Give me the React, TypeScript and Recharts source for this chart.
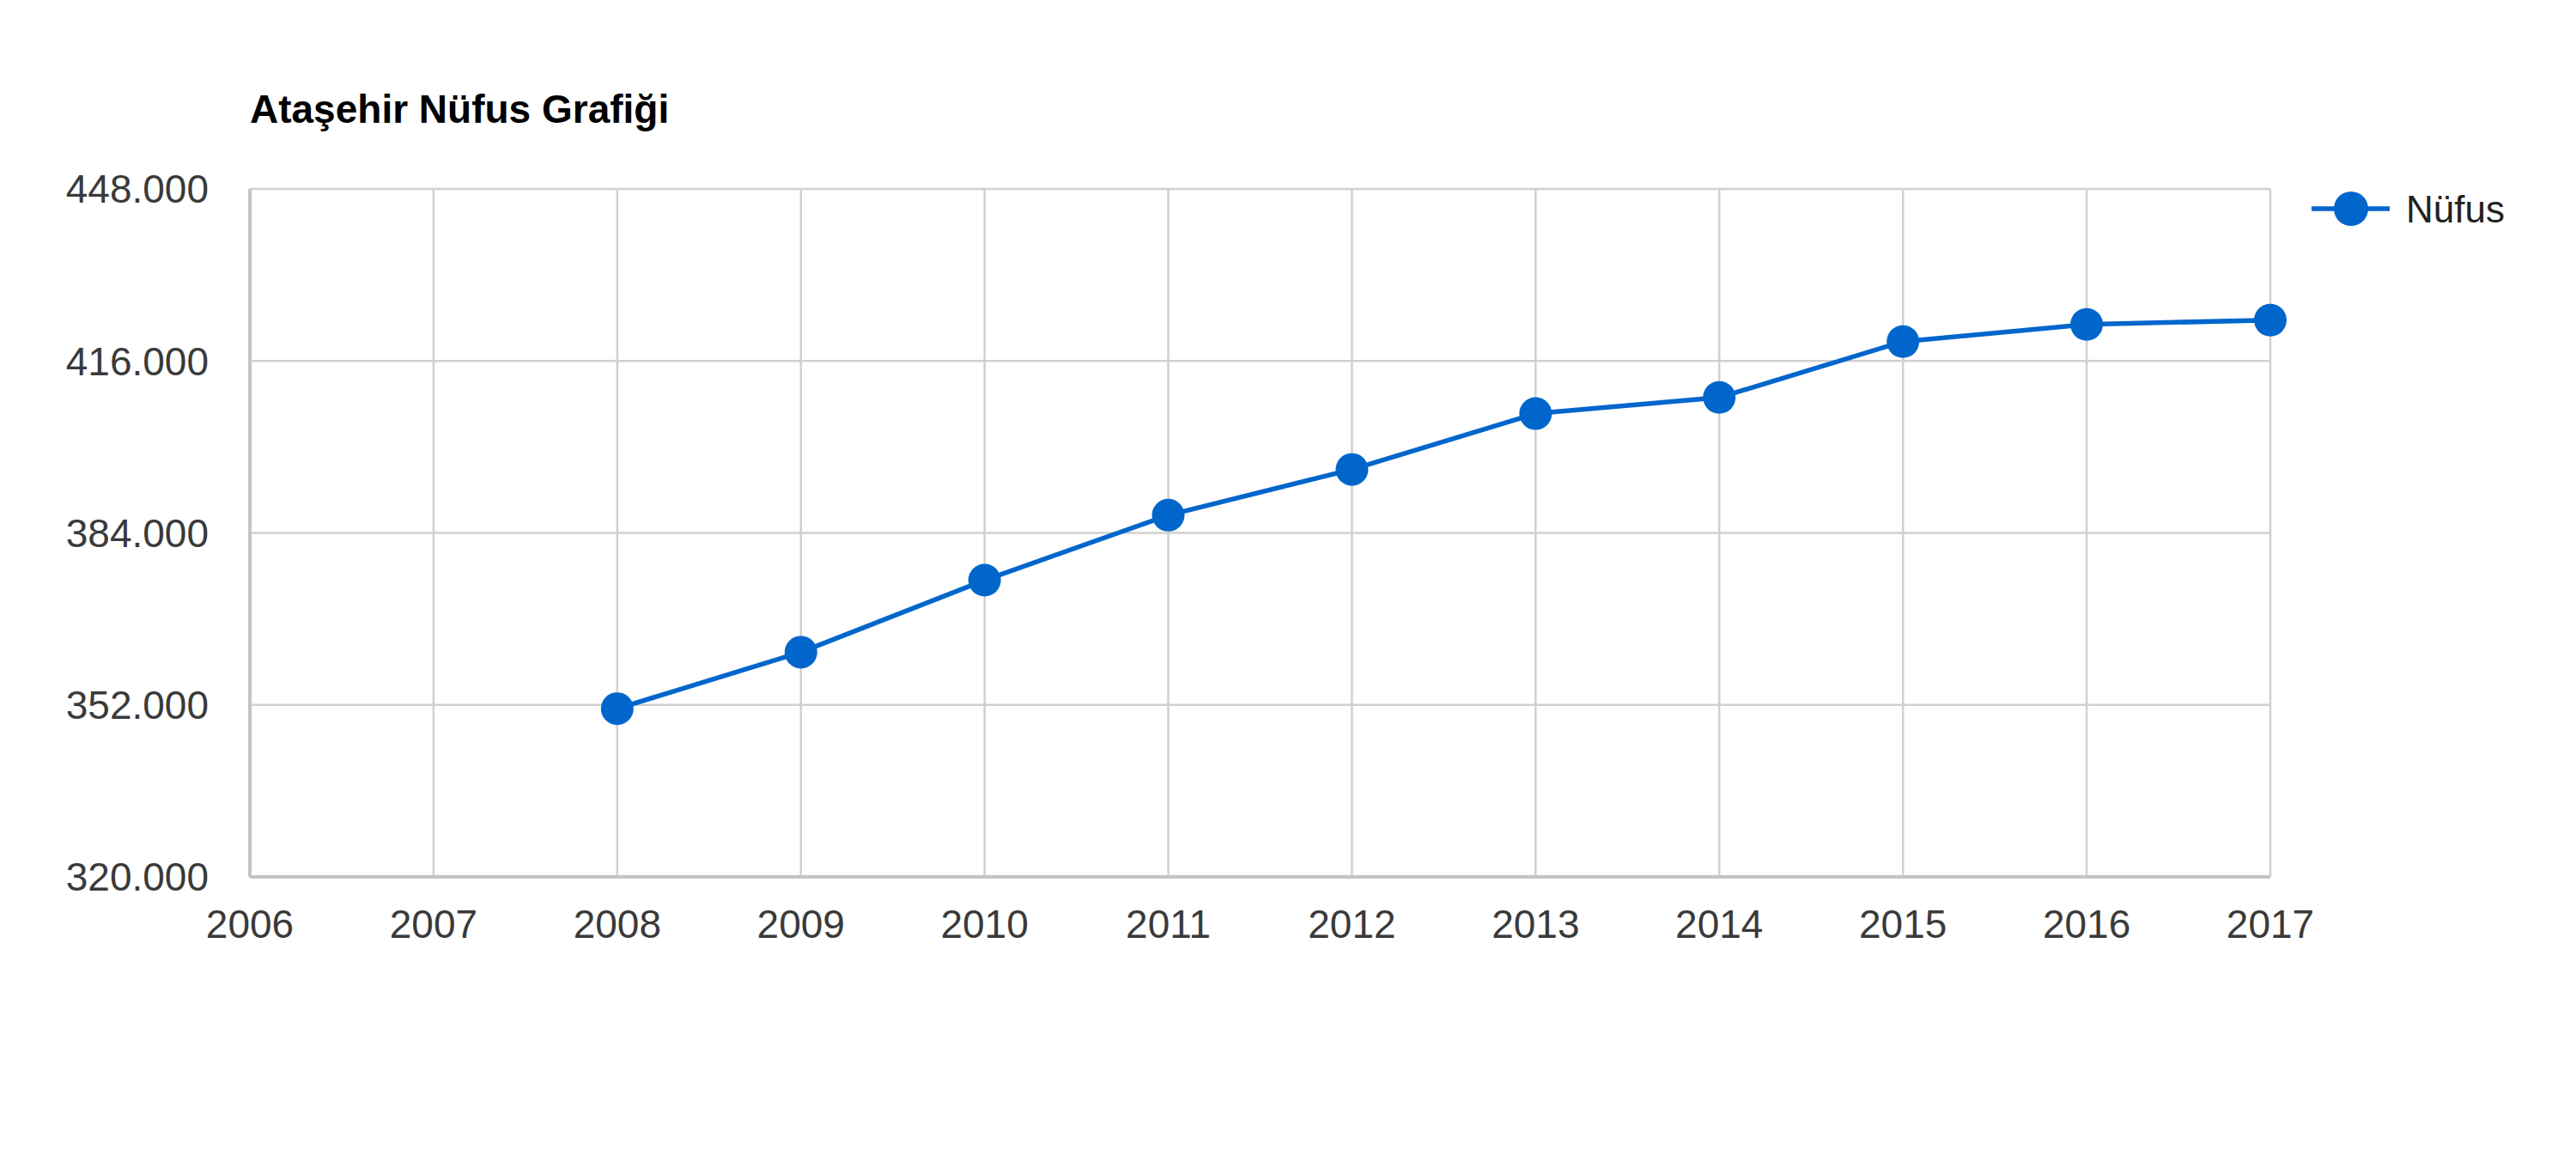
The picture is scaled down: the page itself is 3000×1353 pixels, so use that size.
import React from 'react';
import { LineChart, Line, XAxis, YAxis, CartesianGrid } from 'recharts';

const title = 'Ataşehir Nüfus Grafiği';
const seriesName = 'Nüfus';
const years = [2008, 2009, 2010, 2011, 2012, 2013, 2014, 2015, 2016, 2017];
const population = [351300, 361800, 375200, 387300, 395800, 406200, 409200, 419600, 422800, 423600];
const xTicks = [2006, 2007, 2008, 2009, 2010, 2011, 2012, 2013, 2014, 2015, 2016, 2017];
const yTicks = [320000, 352000, 384000, 416000, 448000];

const data = years.map((y, i) => ({ year: y, value: population[i] }));

const BLUE = '#0066cc';
const FONT = '"Liberation Sans", Arial, sans-serif';

const fmt = (v: number) => String(v).replace(/\B(?=(\d{3})+(?!\d))/g, '.');

export default function App() {
  return (
    <div style={{ position: 'absolute', left: 0, top: 0, width: 3000, height: 1353, background: '#fff', fontFamily: FONT }}>
      <div
        style={{
          position: 'absolute',
          left: 291,
          top: 104,
          fontSize: 46,
          lineHeight: '46px',
          fontWeight: 'bold',
          color: '#000',
          whiteSpace: 'nowrap',
        }}
      >
        {title}
      </div>
      <LineChart
        width={3000}
        height={1353}
        data={data}
        margin={{ top: 220, right: 356, bottom: 252, left: 91 }}
      >
        <CartesianGrid stroke="#d0d0d0" strokeWidth={2.5} vertical horizontal />
        <XAxis
          dataKey="year"
          type="number"
          domain={[2006, 2017]}
          ticks={xTicks}
          interval={0}
          height={80}
          tickLine={false}
          tickSize={8}
          tickMargin={30}
          axisLine={{ stroke: '#c4c4c4', strokeWidth: 4 }}
          tick={{ fontSize: 46, fill: '#3a3a3a', fontFamily: FONT }}
          allowDecimals={false}
        />
        <YAxis
          type="number"
          domain={[320000, 448000]}
          ticks={yTicks}
          interval={0}
          width={200}
          tickLine={false}
          tickSize={8}
          tickMargin={40}
          axisLine={{ stroke: '#c4c4c4', strokeWidth: 4 }}
          tickFormatter={fmt}
          tick={{ fontSize: 46, fill: '#3a3a3a', fontFamily: FONT }}
        />
        <Line
          type="linear"
          dataKey="value"
          name={seriesName}
          stroke={BLUE}
          strokeWidth={5.5}
          dot={{ r: 19, fill: BLUE, stroke: BLUE, strokeWidth: 0 }}
          activeDot={false}
          isAnimationActive={false}
        />
      </LineChart>
      <svg
        width={300}
        height={60}
        style={{ position: 'absolute', left: 2692, top: 213, overflow: 'visible' }}
      >
        <line x1={0} y1={30} x2={91} y2={30} stroke={BLUE} strokeWidth={5.5} />
        <circle cx={46} cy={30} r={20} fill={BLUE} />
        <text x={110} y={30} dy="0.36em" fontSize={44} fill="#222" fontFamily={FONT}>
          {seriesName}
        </text>
      </svg>
    </div>
  );
}
